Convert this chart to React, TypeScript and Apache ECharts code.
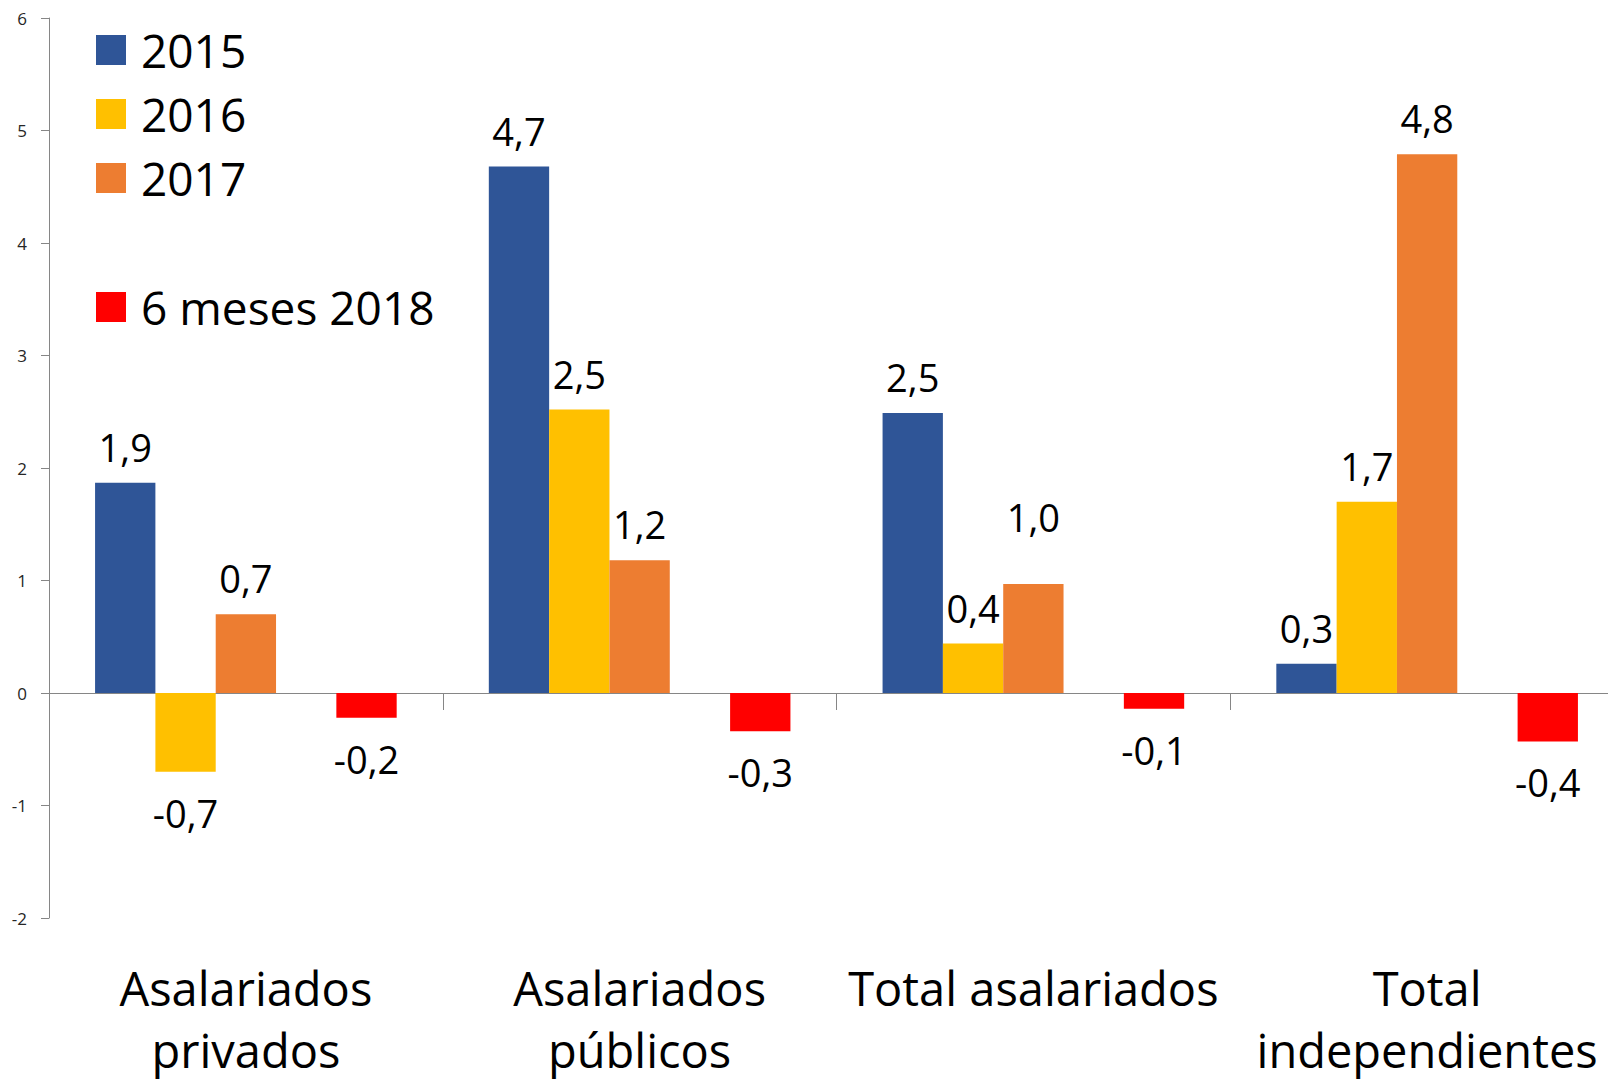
import React, { useEffect, useRef } from "react";
import * as echarts from "echarts";

const categories = [
  "Asalariados\nprivados",
  "Asalariados\npúblicos",
  "Total asalariados",
  "Total\nindependientes",
];
const s2015 = [1.87, 4.68, 2.49, 0.26];
const s2016 = [-0.7, 2.52, 0.44, 1.7];
const s2017 = [0.7, 1.18, 0.97, 4.79];
const s2018 = [-0.22, -0.34, -0.14, -0.43];
const seriesNames = ["2015", "2016", "2017", "6 meses 2018"];
const colors = ["#2F5597", "#FFC000", "#ED7D31", "#FF0000"];

const FONT = "'Open Sans', 'DejaVu Sans', sans-serif";

function fmt(p: any) {
  return Number(p.value).toFixed(1).replace(".", ",");
}

export default function App() {
  const ref = useRef<HTMLDivElement>(null);
  useEffect(() => {
    if (!ref.current) return;
    const chart = echarts.init(ref.current, null, { renderer: "svg" });
    const barLabel = {
      show: true,
      formatter: fmt,
      fontFamily: FONT,
      fontSize: 38,
      color: "#000",
    };
    // one label in the original sits higher above its bar (2017, Total asalariados)
    const raised = (si: number, ci: number) => si === 2 && ci === 2;
    const mk = (name: string, data: number[], color: string, si: number) => ({
      name,
      type: "bar",
      data: data.map((v, ci) => ({
        value: v,
        label: {
          position: v < 0 ? "bottom" : "top",
          distance: v < 0 ? 22 : raised(si, ci) ? 48 : 17,
        },
      })),
      itemStyle: { color },
      label: barLabel,
      barGap: "0%",
      barCategoryGap: "23.4%",
      xAxisIndex: 0,
      yAxisIndex: 0,
    });
    const legendText = {
      fontFamily: FONT,
      fontSize: 46,
      lineHeight: 64,
      color: "#000",
      padding: [0, 0, 0, 10],
    };
    chart.setOption({
      animation: false,
      backgroundColor: "#fff",
      grid: { left: 49, top: 18, height: 900, right: 0, containLabel: false },
      legend: [
        {
          data: seriesNames.slice(0, 3),
          orient: "vertical",
          left: 96,
          top: 18,
          padding: 0,
          itemWidth: 30,
          itemHeight: 30,
          itemGap: 0,
          icon: "rect",
          selectedMode: false,
          textStyle: legendText,
        },
        {
          data: seriesNames.slice(3),
          orient: "vertical",
          left: 96,
          top: 275,
          padding: 0,
          itemWidth: 30,
          itemHeight: 30,
          itemGap: 0,
          icon: "rect",
          selectedMode: false,
          textStyle: legendText,
        },
      ],
      xAxis: [
        {
          type: "category",
          data: categories,
          position: "bottom",
          axisLine: { onZero: true, lineStyle: { color: "#868686", width: 1 } },
          axisTick: { show: true, length: 17, lineStyle: { color: "#868686" } },
          axisLabel: { show: false },
          splitLine: { show: false },
        },
        {
          type: "category",
          data: categories,
          position: "bottom",
          axisLine: { show: false, onZero: false },
          axisTick: { show: false },
          axisLabel: {
            show: true,
            interval: 0,
            margin: 39,
            fontFamily: FONT,
            fontSize: 47,
            lineHeight: 62,
            color: "#000",
          },
          splitLine: { show: false },
        },
      ],
      yAxis: {
        type: "value",
        min: -2,
        max: 6,
        interval: 1,
        axisLine: { show: true, lineStyle: { color: "#868686", width: 1 } },
        axisTick: { show: true, length: 8, lineStyle: { color: "#868686" } },
        axisLabel: {
          margin: 22,
          fontFamily: FONT,
          fontSize: 17,
          color: "#262626",
        },
        splitLine: { show: false },
      },
      series: [
        mk(seriesNames[0], s2015, colors[0], 0),
        mk(seriesNames[1], s2016, colors[1], 1),
        mk(seriesNames[2], s2017, colors[2], 2),
        {
          name: "",
          type: "bar",
          data: [null, null, null, null],
          barGap: "0%",
          barCategoryGap: "23.4%",
          xAxisIndex: 0,
          yAxisIndex: 0,
        },
        mk(seriesNames[3], s2018, colors[3], 3),
      ],
    });
    return () => chart.dispose();
  }, []);
  return (
    <div
      style={{
        position: "fixed",
        left: 0,
        top: 0,
        width: 1608,
        height: 1081,
        overflow: "hidden",
        background: "#fff",
      }}
    >
      <div ref={ref} style={{ width: 1624, height: 1081 }} />
    </div>
  );
}
